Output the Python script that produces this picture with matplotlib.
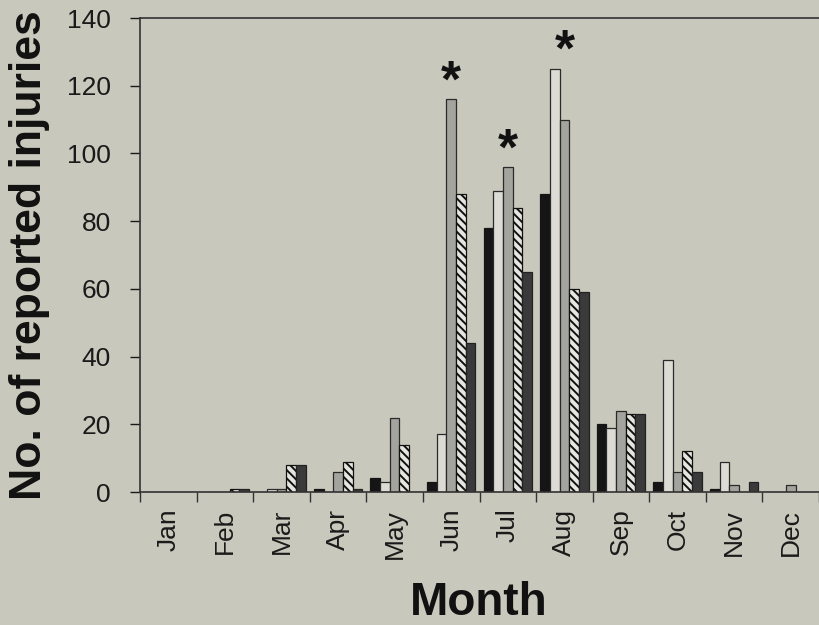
import numpy as np
import matplotlib
matplotlib.use('Agg')
import matplotlib.pyplot as plt

plt.rcParams['font.family'] = ['Liberation Sans', 'DejaVu Sans']
plt.rcParams['hatch.linewidth'] = 1.4

months = ['Jan', 'Feb', 'Mar', 'Apr', 'May', 'Jun',
          'Jul', 'Aug', 'Sep', 'Oct', 'Nov', 'Dec']

# injuries per month, one list per series
series_a = [0, 0, 0, 1, 4, 3, 78, 88, 20, 3, 1, 0]
series_b = [0, 0, 1, 0, 3, 17, 89, 125, 19, 39, 9, 0]
series_c = [0, 0, 1, 6, 22, 116, 96, 110, 24, 6, 2, 2]
series_d = [0, 1, 8, 9, 14, 88, 84, 60, 23, 12, 0, 0]
series_e = [0, 1, 8, 1, 0, 44, 65, 59, 23, 6, 3, 0]

# months marked as significant
starred = ['Jun', 'Jul', 'Aug']

bg = '#c8c8bc'
styles = [
    dict(color='#151515', edgecolor='#151515'),
    dict(color='#dcdcd5', edgecolor='#2a2a2a'),
    dict(color='#a4a49e', edgecolor='#2a2a2a'),
    dict(color='#e6e6e0', edgecolor='#111111', hatch='\\\\\\\\'),
    dict(color='#3a3a3a', edgecolor='#222222'),
]

fig = plt.figure(figsize=(8.19, 6.25), dpi=100, facecolor=bg)
ax = fig.add_axes([140/819, 1 - 492/625, 1 - 140/819, (492 - 18)/625])
ax.set_facecolor(bg)

all_series = [series_a, series_b, series_c, series_d, series_e]
x = np.arange(len(months)) + 0.5
w = 0.171
for k, (vals, st) in enumerate(zip(all_series, styles)):
    ax.bar(x + (k - 2) * w, vals, width=w, linewidth=0.9, **st)

data = np.array(all_series)
for m in starred:
    i = months.index(m)
    top = data[:, i].max()
    ax.annotate('*', xy=(x[i], top), xytext=(0, -6), textcoords='offset points',
                ha='center', va='bottom', fontsize=37, fontweight='bold', color='#111111')

ax.set_xlim(0, 12)
ax.set_ylim(0, 140)
ax.set_yticks(np.arange(0, 141, 20))
ax.set_xticks(x)
ax.set_xticklabels(months, rotation=90)
ax.set_xticks(np.arange(0, 13), minor=True)
ax.tick_params(axis='x', which='major', length=0, pad=12, labelsize=19, colors='#1a1a1a')
ax.tick_params(axis='x', which='minor', length=7, width=1, color='#333333')
ax.tick_params(axis='y', length=7, width=1, pad=14, labelsize=19, colors='#1a1a1a')

for s in ['left', 'bottom', 'top']:
    ax.spines[s].set_color('#333333')
    ax.spines[s].set_linewidth(1.2)
ax.spines['right'].set_visible(False)

fig.text(30/819, 1 - 255/625, 'No. of reported injuries', rotation=90,
         ha='center', va='center', fontsize=32, fontweight='bold', color='#111111')
fig.text(479/819, 1 - 615/625, 'Month', ha='center', va='baseline',
         fontsize=33, fontweight='bold', color='#111111')

fig.savefig('out.png', dpi=100, facecolor=bg)
